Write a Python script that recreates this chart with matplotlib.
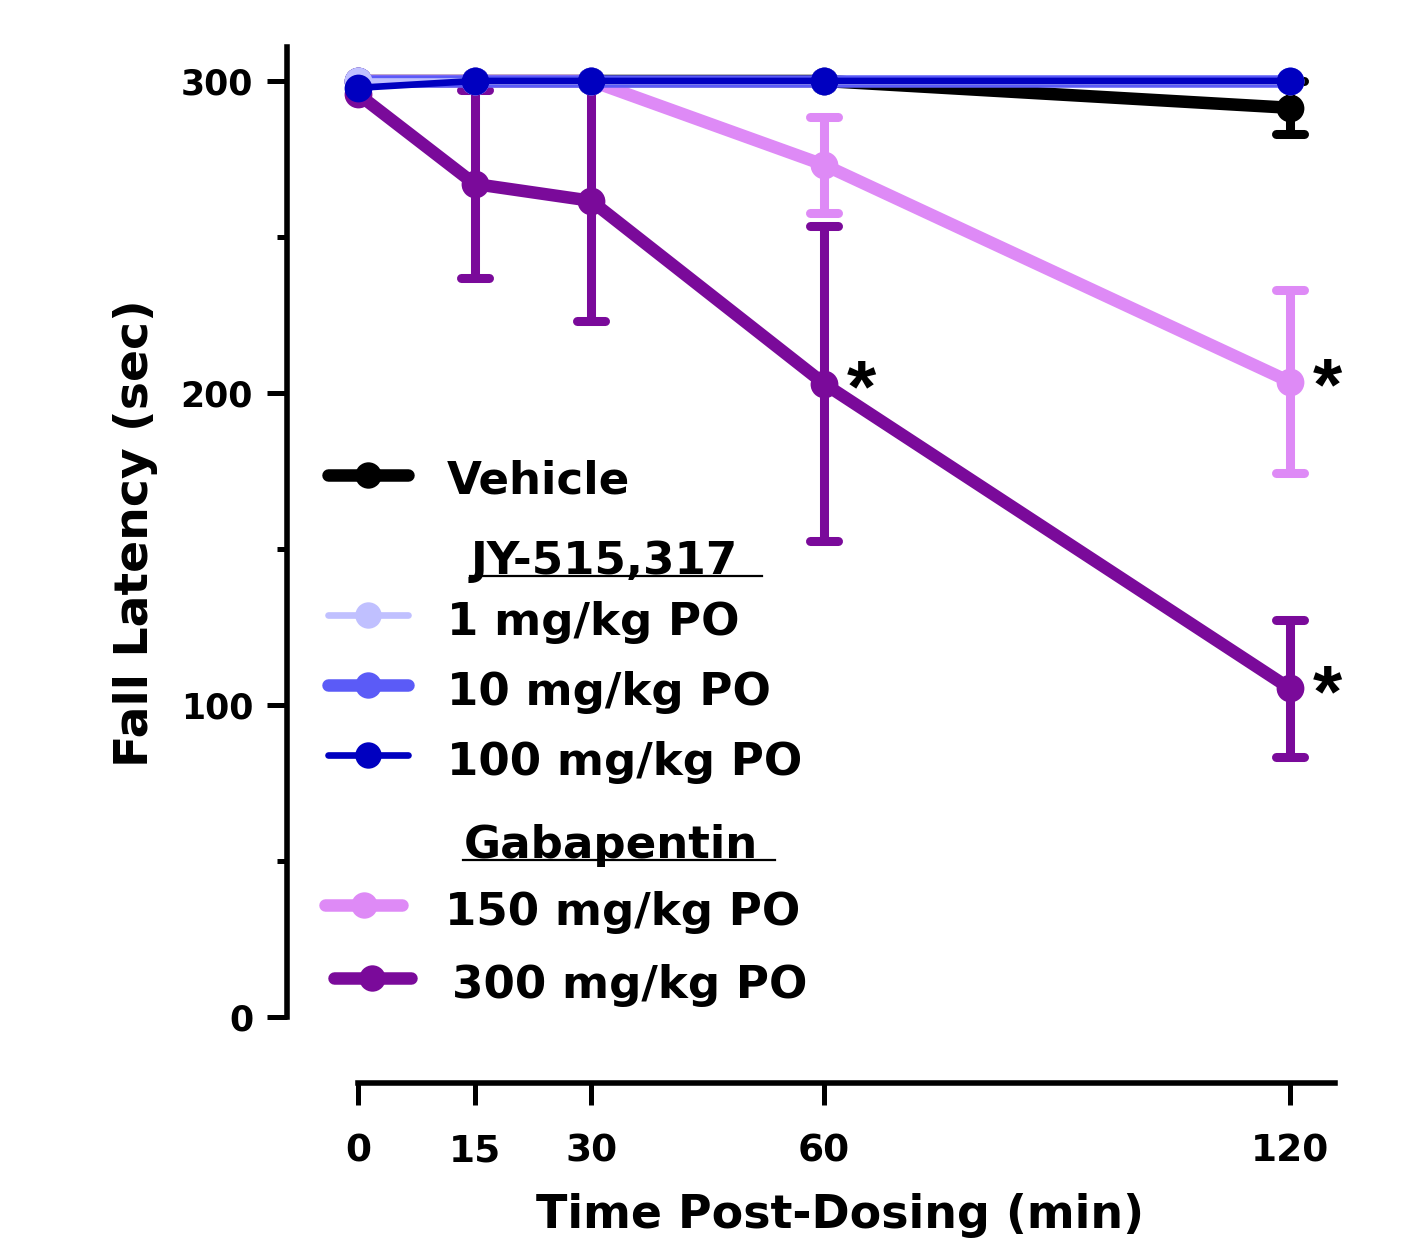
import numpy as np
import matplotlib.pyplot as plt
from matplotlib.lines import Line2D
from matplotlib.markers import MarkerStyle

# data
times = [0, 15, 30, 60, 120]

vehicle_mean = [300, 300, 300, 300, 291.4]
vehicle_sem = [0, 0, 0, 0, 8.5]
jy1_mean = [300, 300, 300, 300, 300]
jy10_mean = [300, 300, 300, 300, 300]
jy100_mean = [297.8, 300, 300, 300, 300]
gaba150_mean = [300, 300, 300, 273.1, 203.6]
gaba150_sem = [0, 0, 0, 15.4, 29.3]
gaba300_mean = [295.8, 267.0, 261.6, 203.0, 105.3]
gaba300_sem = [0, 30.1, 38.4, 50.4, 22.1]

y_ticks = [0, 100, 200, 300]
y_minor = [50, 150, 250]

# (series key, time) with a significance star
significant = [("gaba300", 60), ("gaba150", 120), ("gaba300", 120)]

W, H = 1406, 1243
plt.rcParams["font.family"] = ["DejaVu Sans"]
plt.rcParams["font.weight"] = "bold"

series = {
    "vehicle": dict(mean=vehicle_mean, sem=vehicle_sem, color="black", lw=9, z=2),
    "gaba300": dict(mean=gaba300_mean, sem=gaba300_sem, color="#7a0a9a", lw=9, z=3),
    "gaba150": dict(mean=gaba150_mean, sem=gaba150_sem, color="#de8af6", lw=9, z=4),
    "jy10": dict(mean=jy10_mean, sem=None, color="#5b5bf7", lw=9, z=5),
    "jy1": dict(mean=jy1_mean, sem=None, color="#c0c0ff", lw=4.8, z=6),
    "jy100": dict(mean=jy100_mean, sem=None, color="#0000c0", lw=4.8, z=7),
}

fig = plt.figure(figsize=(W / 100, H / 100), dpi=100)
ax = fig.add_axes([287 / W, (H - 1083) / H, 1053 / W, 1038 / H])

px_min = 932 / 120
px_unit = 937 / 300
ax.set_xlim(-71 / px_min, 982 / px_min)
ax.set_ylim(-66 / px_unit, 973 / px_unit)

for key, s in series.items():
    t = np.array(times, dtype=float)
    m = np.array(s["mean"], dtype=float)
    ax.plot(t, m, color=s["color"], lw=s["lw"], marker="o", ms=20,
            mec=s["color"], mew=0, zorder=s["z"], clip_on=False,
            solid_capstyle="round")
    if s["sem"] is not None:
        e = np.array(s["sem"], dtype=float)
        mask = e > 0
        _, caps, _ = ax.errorbar(t[mask], m[mask], yerr=e[mask], fmt="none",
                                 ecolor=s["color"], elinewidth=6.5, capsize=10,
                                 capthick=6.5, zorder=s["z"] - 0.1, clip_on=False)
        for c in caps:
            c.set_marker(MarkerStyle("_", capstyle="round"))

for key, t in significant:
    y = series[key]["mean"][times.index(t)]
    ax.annotate("*", xy=(t, y), xytext=(27, -20), textcoords="offset points",
                ha="center", va="baseline", fontsize=54,
                family="Liberation Sans", fontweight="bold")

# axes styling
for side in ["top", "right"]:
    ax.spines[side].set_visible(False)
for side in ["left", "bottom"]:
    ax.spines[side].set_linewidth(4)
ax.spines["left"].set_bounds(0, 311)
ax.spines["bottom"].set_bounds(0, 125.8)

ax.set_xticks(times)
ax.set_xticklabels([str(t) for t in times])
ax.set_yticks(y_ticks)
ax.set_yticklabels([str(v) for v in y_ticks])
ax.set_yticks(y_minor, minor=True)
ax.tick_params(axis="y", which="major", labelsize=25, pad=10, length=14.4, width=3.6)
ax.tick_params(axis="y", which="minor", length=7, width=3.6)
ax.tick_params(axis="x", which="major", labelsize=27, pad=20, length=16, width=3.6)

ax.set_xlabel("Time Post-Dosing (min)", fontsize=33, fontweight="bold")
ax.xaxis.set_label_coords(0.525, -0.106)
ax.set_ylabel("Fall Latency (sec)", fontsize=34, fontweight="bold")
ax.yaxis.set_label_coords(-0.1225, 0.530)

# hand-built legend, positions in image pixels (top-left origin)
def fx(x):
    return x / W

def fy(y):
    return 1 - y / H

legend_rows = [
    ("Vehicle", "vehicle", 475, 494, 447),
    ("1 mg/kg PO", "jy1", 615, 635, 447),
    ("10 mg/kg PO", "jy10", 685, 705, 447),
    ("100 mg/kg PO", "jy100", 755, 775, 447),
    ("150 mg/kg PO", "gaba150", 905, 925, 445),
    ("300 mg/kg PO", "gaba300", 978, 998, 452),
]
for label, key, hy, base, tx in legend_rows:
    s = series[key]
    x0, x1 = (328, 408) if key != "gaba150" else (325, 402)
    if key == "gaba300":
        x0, x1 = 334, 411
    fig.add_artist(Line2D([fx(x0), fx(x1)], [fy(hy), fy(hy)], transform=fig.transFigure,
                          color=s["color"], lw=s["lw"], solid_capstyle="round"))
    fig.add_artist(Line2D([fx((x0 + x1) / 2)], [fy(hy)], transform=fig.transFigure,
                          color=s["color"], marker="o", ms=19, mew=0))
    fig.text(fx(tx), fy(base), label, fontsize=32.5, fontweight="bold",
             ha="left", va="baseline")

headers = [("JY-515,317", 471, 574, 762), ("Gabapentin", 464, 858, 775)]
for text, tx, base, ux in headers:
    fig.text(fx(tx), fy(base), text, fontsize=32.5, fontweight="bold",
             ha="left", va="baseline")
    fig.add_artist(Line2D([fx(tx - 1), fx(ux)], [fy(base + 2), fy(base + 2)],
                          transform=fig.transFigure, color="black", lw=1.6))

fig.savefig("out.png", dpi=100)
